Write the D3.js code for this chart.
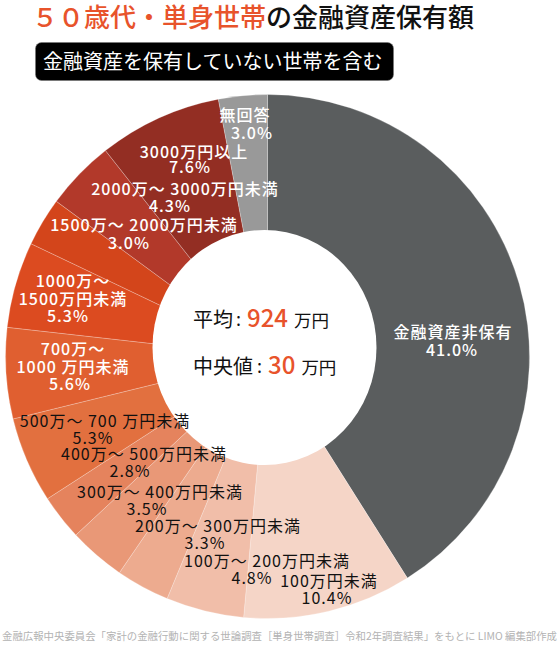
<!DOCTYPE html>
<html lang="ja">
<head>
<meta charset="utf-8">
<script src="https://cdn.jsdelivr.net/npm/d3@7"></script>
<style>
  html, body { margin: 0; padding: 0; background: #fff; }
  svg { display: block; font-family: "Noto Sans CJK JP", "Noto Sans", sans-serif; }
</style>
</head>
<body>
<svg id="chart" width="560" height="646"></svg>
<script>
// Holdings of financial assets, single-person households in their 50s (share of households, %)
const categories = [
  "金融資産非保有",
  "100万円未満",
  "100万～ 200万円未満",
  "200万～ 300万円未満",
  "300万～ 400万円未満",
  "400万～ 500万円未満",
  "500万～ 700 万円未満",
  "700万～\n1000 万円未満",
  "1000万～\n1500万円未満",
  "1500万～ 2000万円未満",
  "2000万～ 3000万円未満",
  "3000万円以上",
  "無回答"
];
const shares = [41.0, 10.4, 4.8, 3.3, 3.5, 2.8, 5.3, 5.6, 5.3, 3.0, 4.3, 7.6, 3.0];

const sliceColors = [
  "#5a5d5e", "#f5d5c7", "#f1bea9", "#edab8f", "#e99877", "#e5835d",
  "#e2703f", "#e05f30", "#dc4b20", "#d3451b", "#b2392a", "#932e23", "#999999"
];
const labelInk = [
  "#fff", "#111", "#111", "#111", "#111", "#111",
  "#111", "#fff", "#fff", "#fff", "#fff", "#fff", "#fff"
];

// Hand-placed label anchors: [name x, name baseline, percent x, percent baseline]
const labelSpots = [
  [453, 338, 452, 356],
  [329, 587, 327, 604],
  [267, 567, 252, 584],
  [218, 532, 205, 549],
  [160, 498, 147, 515],
  [144, 460, 130, 477],
  [105, 427, 93, 444],
  [73, 355, 70, 390],
  [73, 287, 68, 322],
  [144, 231, 129, 249],
  [185, 195, 170, 212],
  [194, 158, 190, 173],
  [245, 121, 252, 139]
];

const meanValue = 924;
const medianValue = 30;

const accent = "#e8532b";
const svg = d3.select("#chart");

// Title
const title = svg.append("text")
  .attr("x", 32).attr("y", 27)
  .attr("font-size", 26).attr("font-weight", 500);
title.append("tspan").attr("fill", accent).text("５０歳代・単身世帯");
title.append("tspan").attr("fill", "#111").text("の金融資産保有額");

// Subtitle badge
svg.append("rect")
  .attr("x", 35.5).attr("y", 42.5).attr("width", 358).attr("height", 38)
  .attr("rx", 6).attr("fill", "#000").attr("stroke", "#777").attr("stroke-width", 0.6);
svg.append("text")
  .attr("x", 43).attr("y", 69)
  .attr("font-size", 20).attr("fill", "#fff")
  .text("金融資産を保有していない世帯を含む");

// Pie
const cx = 267.5, cy = 356.5, outerR = 262;
const pie = d3.pie().sort(null).value(d => d).startAngle(0).endAngle(2 * Math.PI);
const arc = d3.arc().innerRadius(0).outerRadius(outerR);

const g = svg.append("g").attr("transform", `translate(${cx},${cy})`);
g.selectAll("path.slice")
  .data(pie(shares))
  .join("path")
  .attr("class", "slice")
  .attr("d", arc)
  .attr("fill", (d, i) => sliceColors[i])
  .attr("stroke", "rgba(255,255,255,0.3)")
  .attr("stroke-width", 0.8);

// Center hole
svg.append("ellipse")
  .attr("cx", 264.5).attr("cy", 347.5)
  .attr("rx", 112).attr("ry", 117.5)
  .attr("fill", "#fff");

// Slice labels
const labels = svg.append("g")
  .attr("font-size", 16)
  .attr("letter-spacing", 1)
  .attr("text-anchor", "middle");

categories.forEach((name, i) => {
  const [nx, ny, px, py] = labelSpots[i];
  const weight = labelInk[i] === "#fff" ? 500 : 400;
  name.split("\n").forEach((line, j) => {
    labels.append("text")
      .attr("x", nx).attr("y", ny + j * 18)
      .attr("fill", labelInk[i]).attr("font-weight", weight)
      .text(line);
  });
  labels.append("text")
    .attr("x", px).attr("y", py)
    .attr("fill", labelInk[i]).attr("font-weight", weight)
    .text(d3.format(".1f")(shares[i]) + "%");
});

// Mean / median readout
function readout(label, value, baseline, labelEnd) {
  svg.append("text").attr("x", 193).attr("y", baseline)
    .attr("font-size", 20).attr("fill", "#111").text(label);
  svg.append("text").attr("x", labelEnd + 2).attr("y", baseline - 1)
    .attr("font-size", 18).attr("fill", "#111").text(":");
  const v = svg.append("text").attr("x", labelEnd + 13).attr("y", baseline)
    .attr("font-size", 24).attr("font-weight", 500).attr("fill", accent)
    .text(value);
  const w = v.node().getComputedTextLength();
  svg.append("text").attr("x", labelEnd + 13 + w + 6).attr("y", baseline)
    .attr("font-size", 17.5).attr("fill", "#111").text("万円");
}
readout("平均", meanValue, 327, 234);
readout("中央値", medianValue, 374, 255);

// Source note
svg.append("text")
  .attr("x", 2).attr("y", 640)
  .attr("font-size", 10.5).attr("fill", "#b3b3b3")
  .attr("textLength", 555).attr("lengthAdjust", "spacingAndGlyphs")
  .text("金融広報中央委員会「家計の金融行動に関する世論調査［単身世帯調査］令和2年調査結果」をもとに LIMO 編集部作成");
</script>
</body>
</html>
